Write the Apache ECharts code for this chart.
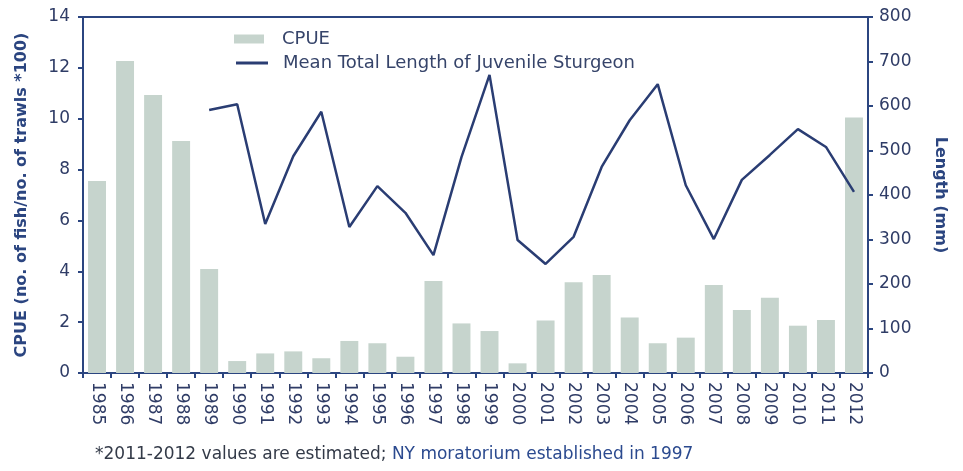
<!DOCTYPE html>
<html>
<head>
<meta charset="utf-8">
<script src="https://cdn.jsdelivr.net/npm/echarts@6/dist/echarts.min.js"></script>
<style>
  html, body { margin: 0; padding: 0; background: #fff; }
  #chart { width: 963px; height: 471px; }
</style>
</head>
<body>
<div id="chart"></div>
<script>
// years on the x axis
var years = ['1985','1986','1987','1988','1989','1990','1991','1992','1993','1994',
  '1995','1996','1997','1998','1999','2000','2001','2002','2003','2004',
  '2005','2006','2007','2008','2009','2010','2011','2012'];
// CPUE (no. of fish / no. of trawls *100)
var cpue = [7.55, 12.27, 10.93, 9.12, 4.09, 0.47, 0.77, 0.85, 0.58, 1.26,
  1.17, 0.64, 3.62, 1.95, 1.65, 0.38, 2.06, 3.57, 3.85, 2.18,
  1.17, 1.39, 3.46, 2.48, 2.96, 1.86, 2.08, 10.05];
// mean total length of juvenile sturgeon (mm), no data before 1989
var meanLength = [null, null, null, null, 591, 604, 335, 487, 587, 328,
  420, 360, 265, 485, 670, 299, 245, 306, 463, 568,
  649, 422, 301, 434, 490, 548, 508, 407];
var leftTicks = [0, 14, 2];
var rightTicks = [0, 800, 100];

var navy = '#2b4580';
var lineColor = '#2a3d73';
var labelColor = '#2f3c66';
var barColor = '#c6d4cd';
var font = 'DejaVu Sans';

var chart = echarts.init(document.getElementById('chart'));
chart.setOption({
  animation: false,
  textStyle: { fontFamily: font },
  grid: {
    left: 83, right: 95, top: 17, bottom: 98,
    show: true, borderColor: navy, borderWidth: 2, backgroundColor: 'transparent'
  },
  // two legends so the line entry can use a thin bar icon
  legend: [
    {
      left: 229, top: 25,
      itemWidth: 30, itemHeight: 9,
      textStyle: { fontSize: 18, color: '#36446a', fontFamily: font, padding: [0, 0, 0, 13] },
      data: [{ name: 'CPUE', icon: 'rect' }]
    },
    {
      left: 231, top: 49,
      itemWidth: 32, itemHeight: 3,
      textStyle: { fontSize: 18, color: '#36446a', fontFamily: font, padding: [0, 0, 0, 10] },
      data: [{ name: 'Mean Total Length of Juvenile Sturgeon', icon: 'rect' }]
    }
  ],
  xAxis: {
    type: 'category',
    data: years,
    axisLine: { lineStyle: { color: navy, width: 2 } },
    axisTick: { show: true, alignWithLabel: false, length: 5, lineStyle: { color: navy, width: 2 } },
    axisLabel: {
      rotate: -90, interval: 0, fontSize: 17, color: labelColor, margin: 9
    }
  },
  yAxis: [
    {
      type: 'value',
      min: leftTicks[0], max: leftTicks[1], interval: leftTicks[2],
      name: 'CPUE (no. of fish/no. of trawls *100)',
      nameLocation: 'middle', nameGap: 53, nameRotate: 90,
      nameTextStyle: { fontSize: 16, fontWeight: 'bold', color: navy },
      splitLine: { show: false },
      axisLine: { show: true, lineStyle: { color: navy, width: 2 } },
      axisTick: { show: true, length: 5, lineStyle: { color: navy, width: 2 } },
      axisLabel: { fontSize: 17, color: labelColor, margin: 13 }
    },
    {
      type: 'value',
      min: rightTicks[0], max: rightTicks[1], interval: rightTicks[2],
      name: 'Length (mm)',
      nameLocation: 'middle', nameGap: 64, nameRotate: -90,
      nameTextStyle: { fontSize: 16, fontWeight: 'bold', color: navy },
      splitLine: { show: false },
      axisLine: { show: true, lineStyle: { color: navy, width: 2 } },
      axisTick: { show: true, length: 5, lineStyle: { color: navy, width: 2 } },
      axisLabel: { fontSize: 17, color: labelColor, margin: 11 }
    }
  ],
  series: [
    {
      name: 'CPUE',
      type: 'bar',
      yAxisIndex: 0,
      data: cpue,
      barCategoryGap: '36%',
      itemStyle: { color: barColor }
    },
    {
      name: 'Mean Total Length of Juvenile Sturgeon',
      type: 'line',
      yAxisIndex: 1,
      data: meanLength,
      showSymbol: false,
      symbol: 'none',
      lineStyle: { color: lineColor, width: 2.5 },
      itemStyle: { color: lineColor }
    }
  ],
  graphic: [
    {
      type: 'text',
      left: 95, top: 446,
      style: {
        text: '{a|*2011-2012 values are estimated; }{b|NY moratorium established in 1997}',
        rich: {
          a: { fontSize: 17, fill: '#333a48', fontFamily: font },
          b: { fontSize: 17, fill: '#2b4a8f', fontFamily: font }
        }
      }
    }
  ]
});
</script>
</body>
</html>
